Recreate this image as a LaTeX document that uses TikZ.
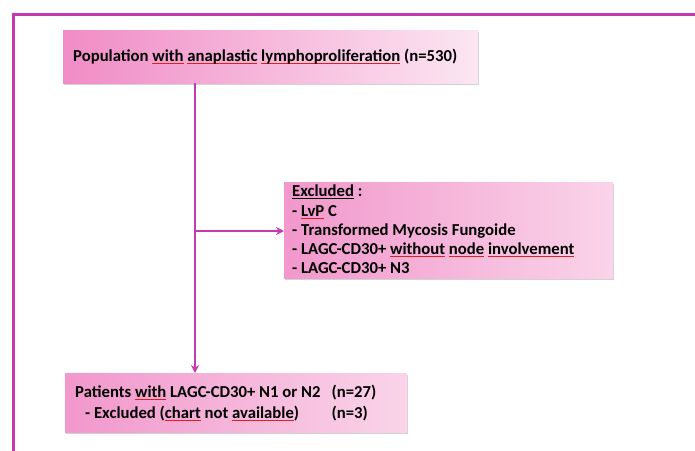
\documentclass[tikz,border=0pt]{standalone}
\usepackage{fontspec}
\setmainfont{Carlito}
\usetikzlibrary{shadows,arrows.meta}

\definecolor{framemag}{HTML}{C43AAE}
\definecolor{boxpink}{HTML}{F08CC6}
\definecolor{boxpale}{HTML}{FCE6F2}
\definecolor{spellred}{HTML}{E0201E}

% red spelling marks and plain underline under words
\newcommand\sperr[1]{\setbox0\hbox{#1}\leavevmode\rlap{\textcolor{spellred}{\rule[-0.3ex]{\wd0}{1pt}}}\box0\relax}
\newcommand\undl[1]{\setbox0\hbox{#1}\leavevmode\rlap{\rule[-0.25ex]{\wd0}{0.9pt}}\box0\relax}

\tikzset{
  flowbox/.style={draw=none, left color=boxpink, right color=boxpale,
    anchor=north west, inner sep=0pt,
    drop shadow={shadow xshift=0.6pt, shadow yshift=-2pt, opacity=0.35}},
  flowtext/.style={anchor=north west, align=left, inner sep=0pt,
    font=\fontsize{16.7}{19.2}\selectfont\bfseries},
  flowline/.style={framemag, line width=1.6pt},
  flowarrow/.style={flowline, -{Stealth[length=8pt,width=8pt]}}
}

\begin{document}
\begin{tikzpicture}[x=1pt, y=-1pt]
\useasboundingbox[fill=white] (0,0) rectangle (695,450);

% outer frame
\draw[framemag, line width=3pt] (13.5,452) -- (13.5,14.5) -- (697,14.5);

\node[flowbox, minimum width=415pt, minimum height=53pt] (pop) at (63,30) {};
\node[flowtext, anchor=west] (poptext) at (73,57)
  {Population \sperr{with} \sperr{anaplastic} \sperr{lymphoproliferation} (n=530)};

\node[flowbox, minimum width=329pt, minimum height=96pt,
  left color=boxpink!90!white, right color=boxpale!80!boxpink]
  (excl) at (284,182) {};
\node[flowtext] (excltext) at (292,185)
  {\undl{Excluded} :\\
   - \sperr{LvP} C\\
   - Transformed Mycosis Fungoide\\
   - LAGC-CD30+ \sperr{without} \sperr{node} \sperr{involvement}\\
   - LAGC-CD30+ N3};

\node[flowbox, minimum width=342pt, minimum height=59pt,
  left color=boxpink!90!white, right color=boxpale!80!boxpink]
  (pat) at (65,373) {};
\node[flowtext] (pattext) at (75,384)
  {\begin{tabular}{@{}l@{\hspace{11pt}}l@{}}
   Patients \sperr{with} LAGC-CD30+ N1 or N2 & (n=27)\\[1.5pt]
   \hspace{10pt}- Excluded (\sperr{chart} not \sperr{available}) & (n=3)
   \end{tabular}};

% connectors
\coordinate (split) at (195,231);
\draw[flowarrow] (split |- pop.south) -- (split |- pat.north);
\draw[flowarrow] (split) -- (excl.west |- split);
\end{tikzpicture}
\end{document}
